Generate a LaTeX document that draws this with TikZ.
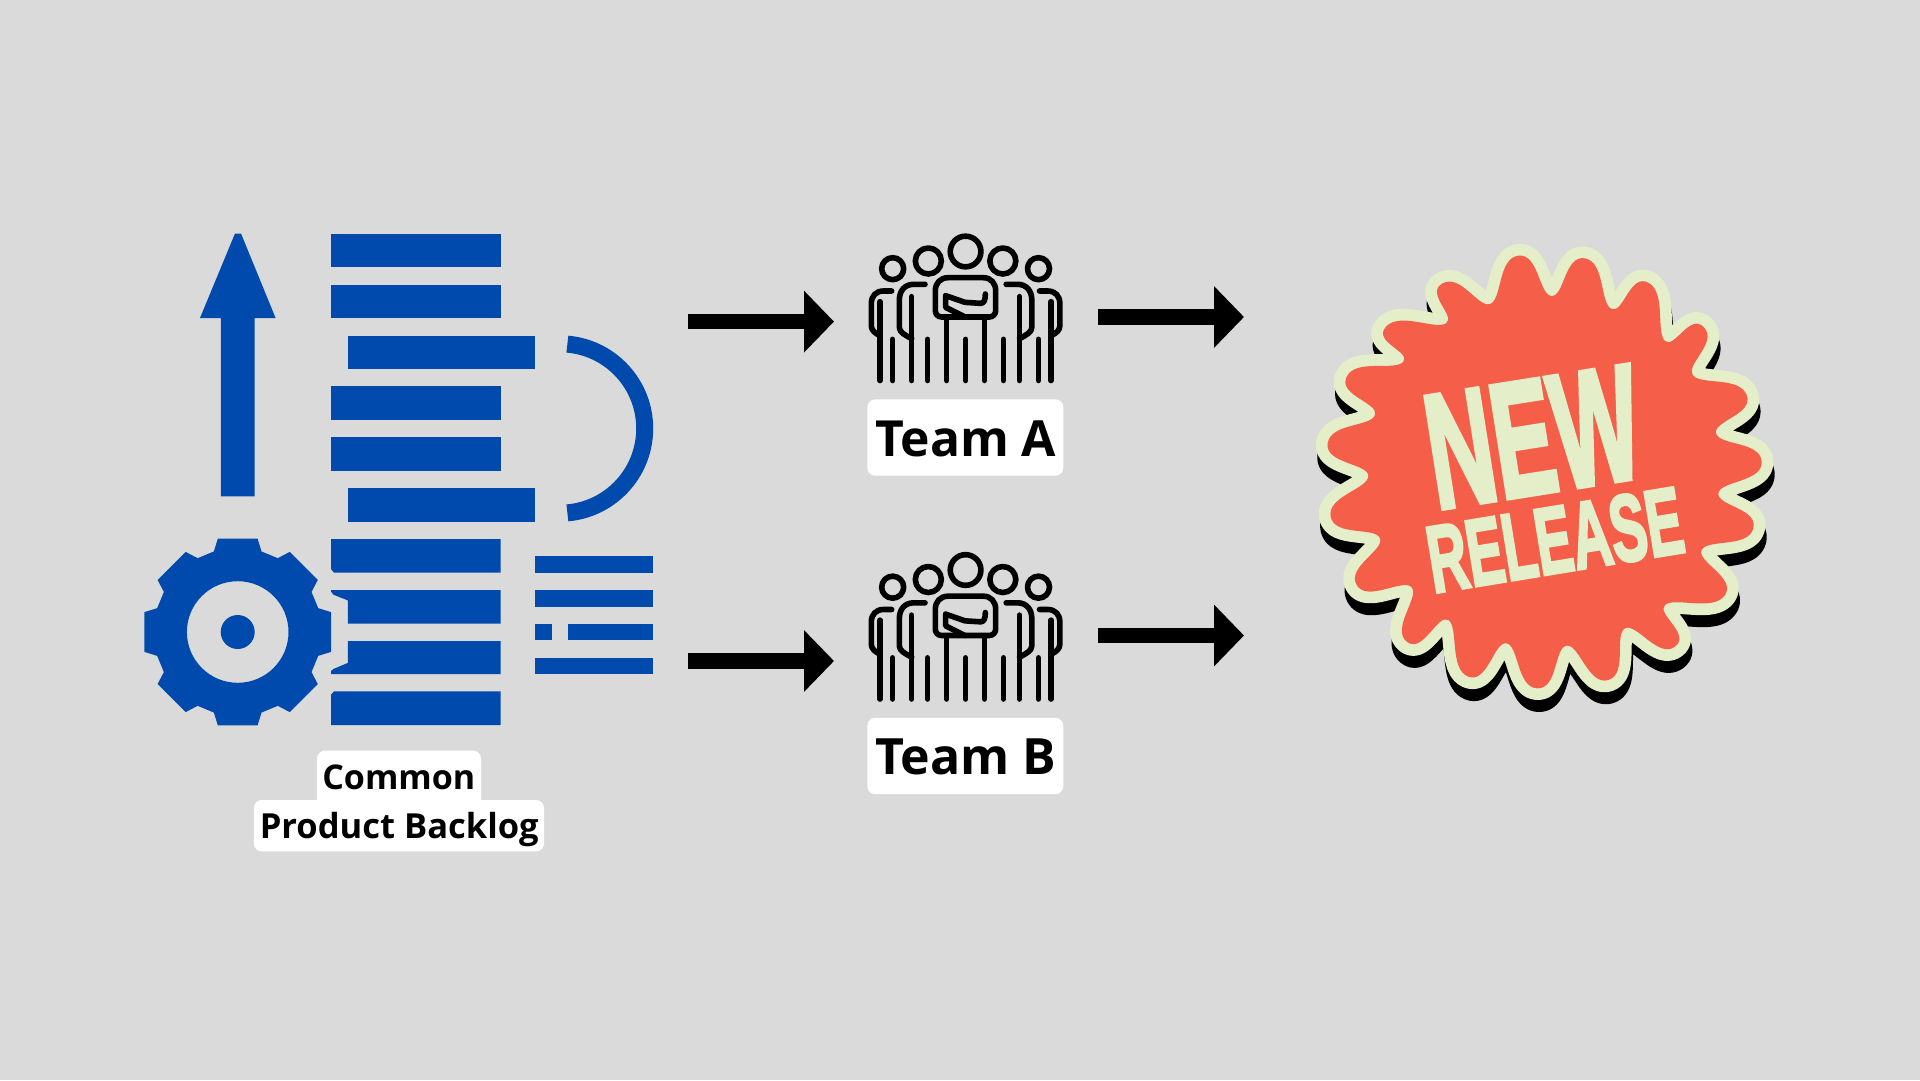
\documentclass[tikz,border=0pt]{standalone}
\usepackage{fontspec}
\usepackage{graphicx}
\usetikzlibrary{arrows.meta,calc}
\setmainfont{Open Sans}
\newfontfamily\burstfont{Liberation Sans}[FakeBold=3.5]
\definecolor{bgc}{HTML}{DADADA}
\definecolor{bluec}{HTML}{004AAD}
\definecolor{redc}{HTML}{F55F4A}
\definecolor{creamc}{HTML}{E4EFC9}
\newcommand\teamhalf{
    \draw[icon] (235,123) circle (39);
    \draw[icon] (128,146) circle (33);
    \draw[icon] (128,358) -- (128,481.5);
    \draw[icon] (233,358) -- (233,481.5);
    \draw[icon] (290,296) -- (290,481.5);
    \draw[icon] (185,230) -- (185,481.5);
    \draw[icon] (90,245) -- (90,481.5);
    \draw[icon] (125,213) -- (100,213) .. controls (78,213) and (64,228) .. (64,250) -- (64,318) .. controls (64,330) and (75,340) .. (90,347);
    \draw[icon] (225,193) -- (190,193) .. controls (165,193) and (148,212) .. (148,240) -- (148,322) .. controls (148,337) and (165,345) .. (185,356);
}
\newcommand\teamfigure{
    \teamhalf
    \begin{scope}[shift={(693.5,0)},xscale=-1]
      \teamhalf
    \end{scope}
    \draw[icon] (346.75,94.5) circle (46);
    \draw[icon] (347,358) -- (347,481.5);
    \draw[icon] (295,173) -- (400,173) .. controls (423,173) and (437,190) .. (437,212) -- (437,272) .. controls (437,283) and (428,291) .. (418,291) -- (275,291) .. controls (264,291) and (256,283) .. (256,272) -- (256,212) .. controls (256,190) and (270,173) .. (295,173) -- cycle;
    \draw[icon] (287,227) -- (345,247) -- (392,250) .. controls (402,250) and (406,240) .. (406,222);
    \draw[icon] (287,227) -- (287,262) -- (345,291);
}
\tikzset{
  bar/.style={fill=bluec},
  flow/.style={line width=15.5pt,-{Triangle[length=30pt,width=60pt]},black},
  labelbox/.style={fill=white,rounded corners=8pt},
  labeltext/.style={inner sep=0pt,font=\bfseries,text=black,anchor=base},
  icon/.style={line width=5.6pt,line cap=round,line join=round,black}
}
\begin{document}
\begin{tikzpicture}[x=1pt,y=-1pt]
\fill[bgc] (0,0) rectangle (1920,1080);
\useasboundingbox (0,0) rectangle (1920,1080);

% up arrow
\fill[bar] (220.8,496.3) -- (220.8,318) -- (200,318) -- (235,233.5) -- (241,233.5) -- (275.6,318) -- (254.5,318) -- (254.5,496.3) -- cycle;

% gear
\coordinate (gc) at (237.7,632);
\fill[bluec,even odd rule] ($(gc)+(-16.5:84)$)
  \foreach \a in {0,45,...,315} {
    -- ($(gc)+(\a-16.5:84)$) -- ($(gc)+(\a-12:95.5)$) -- ($(gc)+(\a+12:95.5)$) -- ($(gc)+(\a+16.5:84)$)
  } -- cycle
  (gc) circle (50.8);
\fill[bluec] (gc) circle (17);

% bars
\fill[bar] (331,233.5) rectangle (500.7,267.3);
\fill[bar] (331,284.5) rectangle (500.7,318);
\fill[bar] (347.8,335.5) rectangle (534.8,369);
\fill[bar] (331,386) rectangle (500.7,420);
\fill[bar] (331,437) rectangle (500.7,470.6);
\fill[bar] (347.8,488) rectangle (534.8,522);
\fill[bar] (331,539) -- (500.7,539) -- (500.7,572.6) -- (334,572.6) -- (331,569) -- cycle;
\fill[bar] (331,590) -- (500.7,590) -- (500.7,623.7) -- (347.8,623.7) -- (347.8,600.4) -- (333.4,594.7) -- (331,591.4) -- cycle;
\fill[bar] (347.8,641) -- (500.7,641) -- (500.7,674) -- (331,674) -- (331,671) -- (333.4,669) -- (347.8,662.9) -- cycle;
\fill[bar] (334,691.4) -- (500.7,691.4) -- (500.7,725) -- (331,725) -- (331,694.7) -- cycle;

% arc
\draw[bluec,line width=17pt] (560,428.5) ++(-85:84.7) arc[start angle=-85,end angle=85,radius=84.7];

% small list
\fill[bar] (534.8,556) rectangle (653.3,572.6);
\fill[bar] (534.8,590) rectangle (653.3,606.5);
\fill[bar] (534.8,623.7) rectangle (551.6,640.4);
\fill[bar] (568.4,623.7) rectangle (653.3,640.4);
\fill[bar] (534.8,657.6) rectangle (653.3,674.3);

% backlog label
\fill[labelbox] (317,750.6) rectangle (481,810);
\fill[labelbox] (253.8,800) rectangle (544,851.4);
\node[labeltext] (common) at (398.8,789.4) {\resizebox{153pt}{!}{Common}};
\node[labeltext] (backlog) at (399.3,838.4) {\resizebox{279pt}{!}{Product Backlog}};

% teams
\begin{scope}[shift={(850,220)},scale=1/3]\teamfigure\end{scope}
\begin{scope}[shift={(850,538.5)},scale=1/3]\teamfigure\end{scope}
\fill[labelbox] (867.3,399.3) rectangle (1063.3,475.7);
\fill[labelbox] (867.3,717.8) rectangle (1063.3,794.2);
\node[labeltext] (teamA) at (965.8,456) {\resizebox{181pt}{!}{Team A}};
\node[labeltext] (teamB) at (965.8,774.5) {\resizebox{181pt}{!}{Team B}};

% connectors
\coordinate (a1s) at (688,321.6); \coordinate (a1e) at (834,321.6);
\coordinate (a2s) at (688,661); \coordinate (a2e) at (834,661);
\coordinate (a3s) at (1098,317); \coordinate (a3e) at (1244,317);
\coordinate (a4s) at (1098,635.5); \coordinate (a4e) at (1244,635.5);
\draw[flow] (a1s) -- (a1e);
\draw[flow] (a2s) -- (a2e);
\draw[flow] (a3s) -- (a3e);
\draw[flow] (a4s) -- (a4e);

% burst: each lobe runs valley - tip - valley, with tangents across the radius
\gdef\burstpath{(570,222)}
\gdef\bpx{570}\gdef\bpy{222}
\pgfmathsetmacro\bpainit{atan2(222-735,570-735)}
\xdef\bpa{\bpainit}
\foreach \tx/\ty/\vx/\vy in {
 655/77/755/198, 855/85/935/237, 1045/158/1095/333, 1212/292/1178/435,
 1340/495/1248/610, 1385/695/1255/790, 1360/895/1205/960, 1275/1095/1095/1125,
 1125/1250/975/1195, 925/1350/800/1247, 712/1375/620/1240, 505/1340/445/1170,
 320/1235/335/1072, 170/1065/240/925, 92/860/205/738, 83/640/225/555,
 140/440/310/395, 258/290/438/280, 428/160/570/222} {
  \pgfmathsetmacro\ta{atan2(\ty-735,\tx-735)}
  \pgfmathsetmacro\va{atan2(\vy-735,\vx-735)}
  \pgfmathsetmacro\ax{\bpx+38*cos(\bpa+90)}
  \pgfmathsetmacro\ay{\bpy+38*sin(\bpa+90)}
  \pgfmathsetmacro\bx{\tx+62*cos(\ta-90)}
  \pgfmathsetmacro\by{\ty+62*sin(\ta-90)}
  \pgfmathsetmacro\cx{\tx+62*cos(\ta+90)}
  \pgfmathsetmacro\cy{\ty+62*sin(\ta+90)}
  \pgfmathsetmacro\dx{\vx+38*cos(\va-90)}
  \pgfmathsetmacro\dy{\vy+38*sin(\va-90)}
  \xdef\burstpath{\burstpath .. controls (\ax,\ay) and (\bx,\by) .. (\tx,\ty) .. controls (\cx,\cy) and (\dx,\dy) .. (\vx,\vy)}
  \xdef\bpx{\vx}\xdef\bpy{\vy}\xdef\bpa{\va}
}
\begin{scope}[shift={(1300,230)},scale=1/3]
  \draw[black,line width=23.4pt,line join=round,fill=black,shift={(4,36)}] \burstpath -- cycle;
  \draw[creamc,line width=23.4pt,line join=round,fill=redc] \burstpath -- cycle;
  \fill[redc] \burstpath -- cycle;
\end{scope}
\node[inner sep=0pt,text=creamc,rotate=9,font=\burstfont\bfseries] (new) at (1533,437) {\resizebox{213pt}{112pt}{NEW}};
\node[inner sep=0pt,text=creamc,rotate=9.3,font=\burstfont\bfseries] (rel) at (1555,540) {\resizebox{257pt}{66pt}{RELEASE}};
\end{tikzpicture}
\end{document}
